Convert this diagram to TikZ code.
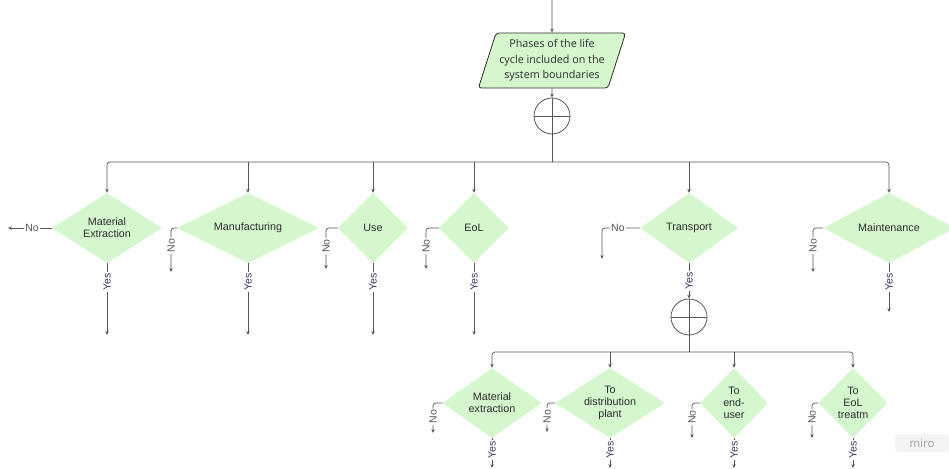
\documentclass[tikz,border=0pt]{standalone}
\usepackage{fontspec}
\setmainfont{Liberation Sans}
\newfontfamily\osans{Open Sans}
\usetikzlibrary{shapes.geometric,arrows.meta}
\definecolor{dgreen}{RGB}{212,247,206}
\definecolor{lgray}{RGB}{85,85,85}
\definecolor{txt}{RGB}{45,45,45}
\definecolor{yescol}{RGB}{55,55,105}
\definecolor{wmbg}{RGB}{244,244,244}
\definecolor{wmtx}{RGB}{160,160,160}
\tikzset{
  conn/.style={draw=lgray, line width=0.7pt},
  arr/.style={conn, -{Stealth[length=4pt,width=3.4pt]}},
  dia/.style={diamond, fill=dgreen, inner sep=0pt, align=center,
    font=\fontsize{10.75}{12}\selectfont, text=txt},
  junc/.style={circle, draw=lgray, line width=0.8pt, minimum size=36pt, inner sep=0pt,
    path picture={\draw[lgray, line width=0.8pt]
      (path picture bounding box.north) -- (path picture bounding box.south)
      (path picture bounding box.west) -- (path picture bounding box.east);}},
  yeslab/.style={fill=white, rotate=90, inner sep=1.5pt,
    font=\fontsize{10.5}{10.5}\selectfont, text=yescol},
  nolab/.style={fill=white, inner sep=1.5pt,
    font=\fontsize{10.5}{10.5}\selectfont, text=lgray},
}
\begin{document}
\begin{tikzpicture}[x=1pt,y=-1pt]
\useasboundingbox (0,0) rectangle (949,468);

% top
\coordinate (top) at (552,0);
\node[trapezium, trapezium left angle=70, trapezium right angle=110,
  trapezium stretches=true, minimum width=139pt, minimum height=55pt,
  fill=dgreen, draw=txt, line width=0.8pt, rounded corners=3pt, align=center,
  font=\osans\fontsize{10.75}{15.5}\selectfont, text=txt] (p) at (552,60.5)
  {Phases of the life\\ cycle included on the\\ system boundaries};
\node[junc] (c1) at (552,116) {};
\coordinate (b1) at (552,162);
\draw[arr] (top) -- (p.north);
\draw[arr] (p.south) -- (c1.north);

% row 1 diamonds
\node[dia, minimum width=110pt, minimum height=70pt, aspect=1.57] (d1) at (107,228) {Material\\Extraction};
\node[dia, minimum width=142pt, minimum height=70pt, aspect=2] (d2) at (248,228) {Manufacturing};
\node[dia, minimum width=70pt, minimum height=70pt, aspect=1] (d3) at (373,228) {Use};
\node[dia, minimum width=70pt, minimum height=70pt, aspect=1] (d4) at (474,228) {EoL};
\node[dia, minimum width=98pt, minimum height=70pt, aspect=1.4] (d5) at (689,228) {Transport};
\node[dia, minimum width=132pt, minimum height=70pt, aspect=1.9] (d6) at (889,228) {Maintenance};

\draw[conn] (c1.south) -- (b1);
\draw[arr, rounded corners=3pt] (b1) -| (d1.north);
\draw[arr, rounded corners=3pt] (b1) -| (d6.north);
\foreach \d in {d2,d3,d4,d5}
  \draw[arr] (\d.north |- b1) -- (\d.north);

% row 1 yes
\coordinate (y1) at (107,335);
\coordinate (y2) at (248,335);
\coordinate (y3) at (373,335);
\coordinate (y4) at (474,335);
\coordinate (y6) at (889,312);
\draw[arr] (d1.south) -- node[yeslab, pos=0.26]{Yes} (y1);
\draw[arr] (d2.south) -- node[yeslab, pos=0.26]{Yes} (y2);
\draw[arr] (d3.south) -- node[yeslab, pos=0.26]{Yes} (y3);
\draw[arr] (d4.south) -- node[yeslab, pos=0.26]{Yes} (y4);
\draw[arr] (d6.south) -- node[yeslab, pos=0.39]{Yes} (y6);

% row 1 no
\coordinate (n1) at (8,228);
\coordinate (n2) at (171,272);
\coordinate (n3) at (326,269);
\coordinate (n4) at (426,269);
\coordinate (n5) at (602,259);
\coordinate (n6) at (813,272);
\draw[arr] (d1.west) -- node[nolab, pos=0.45]{No} (n1);
\draw[arr, rounded corners=3pt] (d2.west) -| node[nolab, rotate=90, pos=0.70]{No} (n2);
\draw[arr, rounded corners=3pt] (d3.west) -| node[nolab, rotate=90, pos=0.72]{No} (n3);
\draw[arr, rounded corners=3pt] (d4.west) -| node[nolab, rotate=90, pos=0.72]{No} (n4);
\draw[arr, rounded corners=3pt] (d5.west) -| node[nolab, pos=0.29]{No} (n5);
\draw[arr, rounded corners=3pt] (d6.west) -| node[nolab, rotate=90, pos=0.70]{No} (n6);

% transport branch
\node[junc] (c2) at (689,317) {};
\coordinate (b2) at (689,352);
\draw[arr] (d5.south) -- node[yeslab, pos=0.5]{Yes} (c2.north);

\node[dia, minimum width=99pt, minimum height=70pt, aspect=1.4] (e1) at (492,403) {Material\\extraction};
\node[dia, minimum width=110pt, minimum height=70pt, aspect=1.57] (e2) at (610,403) {To\\distribution\\plant};
\node[dia, minimum width=68pt, minimum height=70pt, aspect=1] (e3) at (734,403) {To\\end-\\user};
\node[dia, minimum width=69pt, minimum height=70pt, aspect=1] (e4) at (853,403) {To\\EoL\\treatm};

\draw[conn] (c2.south) -- (b2);
\draw[arr, rounded corners=3pt] (b2) -| (e1.north);
\draw[arr, rounded corners=3pt] (b2) -| (e4.north);
\foreach \e in {e2,e3}
  \draw[arr] (\e.north |- b2) -- (\e.north);

% row 2 yes
\coordinate (z1) at (492,468);
\coordinate (z2) at (610,468);
\coordinate (z3) at (734,468);
\coordinate (z4) at (853,468);
\draw[arr] (e1.south) -- node[yeslab, pos=0.4]{Yes} (z1);
\draw[arr] (e2.south) -- node[yeslab, pos=0.4]{Yes} (z2);
\draw[arr] (e3.south) -- node[yeslab, pos=0.4]{Yes} (z3);
\draw[arr] (e4.south) -- node[yeslab, pos=0.4]{Yes} (z4);

% row 2 no
\coordinate (m1) at (433,433);
\coordinate (m2) at (547,432);
\coordinate (m3) at (692,438);
\coordinate (m4) at (812,438);
\draw[arr, rounded corners=3pt] (e1.west) -| node[nolab, rotate=90, pos=0.73]{No} (m1);
\draw[arr, rounded corners=3pt] (e2.west) -| node[nolab, rotate=90, pos=0.73]{No} (m2);
\draw[arr, rounded corners=3pt] (e3.west) -| node[nolab, rotate=90, pos=0.70]{No} (m3);
\draw[arr, rounded corners=3pt] (e4.west) -| node[nolab, rotate=90, pos=0.70]{No} (m4);

% watermark
\node[fill=wmbg, rounded corners=3pt, text=wmtx, minimum width=54pt, minimum height=18pt,
  font=\osans\fontsize{11.5}{11.5}\selectfont] (miro) at (922,443) {miro};
\end{tikzpicture}
\end{document}
